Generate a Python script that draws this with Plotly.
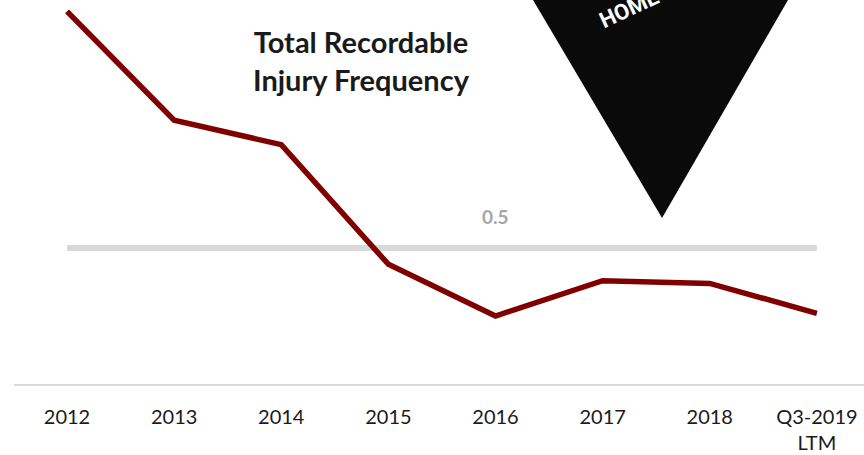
import plotly.graph_objects as go

# Total Recordable Injury Frequency by year
categories = ["2012", "2013", "2014", "2015", "2016", "2017", "2018", "Q3-2019<br>LTM"]
trif_values = [1.37, 0.97, 0.88, 0.44, 0.25, 0.38, 0.37, 0.26]
target_value = 0.5
target_label = "0.5"

RED = "#800000"
GRID_GREY = "#d9d9d9"
LABEL_GREY = "#a6a6a6"
FONT = "Lato, Carlito, Calibri, sans-serif"

fig = go.Figure()

# target reference line
fig.add_trace(go.Scatter(
    x=categories, y=[target_value] * len(categories),
    mode="lines", line=dict(color=GRID_GREY, width=6),
    hoverinfo="skip", showlegend=False,
))

# TRIF series
fig.add_trace(go.Scatter(
    x=categories, y=trif_values,
    mode="lines", line=dict(color=RED, width=5.5),
    showlegend=False,
))

# label for the target line, above the 2016 position (category index)
fig.add_annotation(
    x=categories.index("2016"), y=target_value, xref="x", yref="y",
    text="<b>%s</b>" % target_label, showarrow=False,
    yanchor="bottom", yshift=18,
    font=dict(family=FONT, size=19, color=LABEL_GREY),
)

# chart title
fig.add_annotation(
    x=0.409, y=0.942, xref="paper", yref="paper",
    text="<b>Total Recordable<br>Injury Frequency</b>", showarrow=False,
    xanchor="center", yanchor="top",
    font=dict(family=FONT, size=29, color="#1a1a1a"),
)

# black pennant with white caption running off the top edge
fig.add_shape(
    type="path", xref="paper", yref="paper",
    path="M 0.6106 1.0 L 0.9106 1.0 L 0.7624 0.4323 Z",
    fillcolor="#0a0a0a", line=dict(width=0), layer="above",
)
fig.add_annotation(
    x=0.724, y=0.977, xref="paper", yref="paper",
    xanchor="center", yanchor="middle",
    text="<b>HOME</b>", showarrow=False, textangle=-25,
    font=dict(family="Roboto, DejaVu Sans, sans-serif", size=22, color="white"),
)

fig.update_layout(
    width=864, height=455,
    margin=dict(l=14, r=0, t=0, b=71),
    paper_bgcolor="white", plot_bgcolor="white",
    xaxis=dict(
        type="category", range=[-0.495, 7.44],
        showgrid=False, zeroline=False,
        showline=True, linecolor=GRID_GREY, linewidth=2,
        ticks="", ticklabelstandoff=14,
        tickfont=dict(family=FONT, size=20, color="#1a1a1a"),
    ),
    yaxis=dict(
        range=[0, 1.412], visible=False, fixedrange=True,
    ),
)

fig.write_html("out.html")
